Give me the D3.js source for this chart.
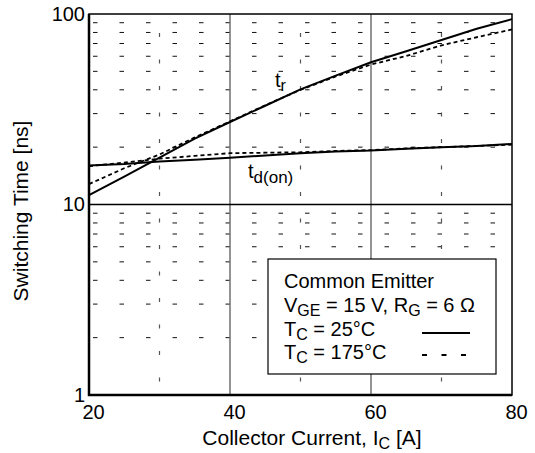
<!DOCTYPE html>
<html>
<head>
<meta charset="utf-8">
<script src="https://cdn.jsdelivr.net/npm/d3@7"></script>
<style>
  body { margin: 0; background: #fff; }
  svg text { font-family: "Liberation Sans", Arial, Helvetica, sans-serif; fill: #000; }
</style>
</head>
<body>
<svg width="535" height="453"></svg>
<script>
// collector current [A]
var currentA = [20, 25, 30, 35, 40, 45, 50, 55, 60, 65, 70, 75, 80];
// switching times [ns]
var trCold  = [11.2, 14.0, 17.6, 22.2, 27.1, 33.0, 40.2, 47.5, 55.8, 63.8, 73.0, 83.6, 94.0];
var trHot   = [12.8, 15.5, 18.3, 22.5, 27.3, 33.2, 40.0, 47.0, 54.3, 60.2, 68.5, 75.5, 83.0];
var tdCold  = [16.0, 16.3, 16.8, 17.2, 17.6, 18.1, 18.6, 19.0, 19.2, 19.6, 20.0, 20.3, 20.8];
var tdHot   = [15.9, 16.6, 17.4, 18.0, 18.6, 18.7, 18.8, 19.1, 19.3, 19.7, 20.0, 20.3, 20.6];

var xTicks = [20, 40, 60, 80];
var yTicks = [1, 10, 100];
var gridSolidX = [40, 60];
var gridDashX = [30, 50, 70];
var gridDashY = [2, 3, 4, 5, 6, 7, 8, 9, 20, 30, 40, 50, 60, 70, 80, 90];

var svg = d3.select("svg");
var pLeft = 89, pRight = 512, pTop = 14, pBottom = 395;

var x = d3.scaleLinear().domain([20, 80]).range([pLeft, pRight]);
var y = d3.scaleLog().domain([1, 100]).range([pBottom, pTop]);

var grid = svg.append("g");

// dashed horizontal grid
grid.selectAll("line.hd")
    .data(gridDashY)
    .enter().append("line")
    .attr("x1", pLeft).attr("x2", pRight)
    .attr("y1", function(d) { return y(d); })
    .attr("y2", function(d) { return y(d); })
    .attr("stroke", "#111")
    .attr("stroke-width", 1)
    .attr("stroke-dasharray", "4.5,22")
    .attr("stroke-dashoffset", 22.5);

// dashed vertical grid
grid.selectAll("line.vd")
    .data(gridDashX)
    .enter().append("line")
    .attr("x1", function(d) { return x(d); })
    .attr("x2", function(d) { return x(d); })
    .attr("y1", pTop).attr("y2", pBottom)
    .attr("stroke", "#555")
    .attr("stroke-width", 1.2)
    .attr("stroke-dasharray", "4,22.5")
    .attr("stroke-dashoffset", 7.5);

// solid grid
grid.selectAll("line.vs")
    .data(gridSolidX)
    .enter().append("line")
    .attr("x1", function(d) { return x(d); })
    .attr("x2", function(d) { return x(d); })
    .attr("y1", pTop).attr("y2", pBottom)
    .attr("stroke", "#707070")
    .attr("stroke-width", 1.5);

grid.append("line")
    .attr("x1", pLeft).attr("x2", pRight)
    .attr("y1", y(10)).attr("y2", y(10))
    .attr("stroke", "#000")
    .attr("stroke-width", 1.5);

// curves
var line = d3.line()
    .x(function(d) { return x(d[0]); })
    .y(function(d) { return y(d[1]); });

function series(vals) {
    return currentA.map(function(c, i) { return [c, vals[i]]; });
}

[trCold, tdCold].forEach(function(s) {
    svg.append("path")
        .datum(series(s))
        .attr("d", line)
        .attr("fill", "none")
        .attr("stroke", "#000")
        .attr("stroke-width", 2);
});
[trHot, tdHot].forEach(function(s) {
    svg.append("path")
        .datum(series(s))
        .attr("d", line)
        .attr("fill", "none")
        .attr("stroke", "#000")
        .attr("stroke-width", 1.8)
        .attr("stroke-dasharray", "4,3");
});

// frame
svg.append("rect")
    .attr("x", pLeft).attr("y", pTop)
    .attr("width", pRight - pLeft).attr("height", pBottom - pTop)
    .attr("fill", "none")
    .attr("stroke", "#000")
    .attr("stroke-width", 1.5);
svg.append("path")
    .attr("d", "M" + pLeft + "," + pTop + "V" + pBottom + "H" + pRight)
    .attr("fill", "none")
    .attr("stroke", "#000")
    .attr("stroke-width", 2.5);

// axes
var xAxis = svg.append("g")
    .attr("transform", "translate(4," + pBottom + ")")
    .call(d3.axisBottom(x).tickValues(xTicks).tickSize(0).tickPadding(10));
xAxis.select(".domain").remove();
xAxis.selectAll("text")
    .style("font-size", "20px")
    .style("font-family", "'Liberation Sans', Arial, sans-serif");

var yAxis = svg.append("g")
    .attr("transform", "translate(" + pLeft + ",0)")
    .call(d3.axisLeft(y).tickValues(yTicks).tickSize(0).tickPadding(4).tickFormat(d3.format("d")));
yAxis.select(".domain").remove();
yAxis.selectAll("text")
    .style("font-size", "20px")
    .style("font-family", "'Liberation Sans', Arial, sans-serif");

// axis titles
svg.append("text")
    .attr("transform", "translate(28,211) rotate(-90)")
    .attr("text-anchor", "middle")
    .style("font-size", "21px")
    .text("Switching Time [ns]");

var xt = svg.append("text")
    .attr("x", 312).attr("y", 445)
    .attr("text-anchor", "middle")
    .style("font-size", "21px");
xt.append("tspan").text("Collector Current, I");
xt.append("tspan").attr("dy", 4).style("font-size", "16px").text("C");
xt.append("tspan").attr("dy", -4).text(" [A]");

// curve labels
var lr = svg.append("text").attr("x", 275).attr("y", 87).style("font-size", "20px");
lr.append("tspan").text("t");
lr.append("tspan").attr("dy", 4).style("font-size", "16px").text("r");

var ld = svg.append("text").attr("x", 248).attr("y", 178).style("font-size", "20px");
ld.append("tspan").text("t");
ld.append("tspan").attr("dy", 5).style("font-size", "17px").text("d(on)");

// legend
var lg = svg.append("g");
lg.append("rect")
    .attr("x", 268).attr("y", 259)
    .attr("width", 228).attr("height", 115)
    .attr("fill", "#fff")
    .attr("stroke", "#000")
    .attr("stroke-width", 1.2);

lg.append("text").attr("x", 284).attr("y", 288).style("font-size", "20px").text("Common Emitter");

var l2 = lg.append("text").attr("x", 284).attr("y", 312).style("font-size", "20px");
l2.append("tspan").text("V");
l2.append("tspan").attr("dy", 4).style("font-size", "16px").text("GE");
l2.append("tspan").attr("dy", -4).text(" = 15 V, R");
l2.append("tspan").attr("dy", 4).style("font-size", "16px").text("G");
l2.append("tspan").attr("dy", -4).text(" = 6 \u03A9");

var l3 = lg.append("text").attr("x", 284).attr("y", 336).style("font-size", "20px");
l3.append("tspan").text("T");
l3.append("tspan").attr("dy", 4).style("font-size", "16px").text("C");
l3.append("tspan").attr("dy", -4).text(" = 25\u00B0C");

var l4 = lg.append("text").attr("x", 284).attr("y", 359).style("font-size", "20px");
l4.append("tspan").text("T");
l4.append("tspan").attr("dy", 4).style("font-size", "16px").text("C");
l4.append("tspan").attr("dy", -4).text(" = 175\u00B0C");

lg.append("line")
    .attr("x1", 422).attr("x2", 470).attr("y1", 333).attr("y2", 333)
    .attr("stroke", "#000").attr("stroke-width", 2);
lg.append("line")
    .attr("x1", 422).attr("x2", 470).attr("y1", 355).attr("y2", 355)
    .attr("stroke", "#000").attr("stroke-width", 2)
    .attr("stroke-dasharray", "5,14.5");
</script>
</body>
</html>
